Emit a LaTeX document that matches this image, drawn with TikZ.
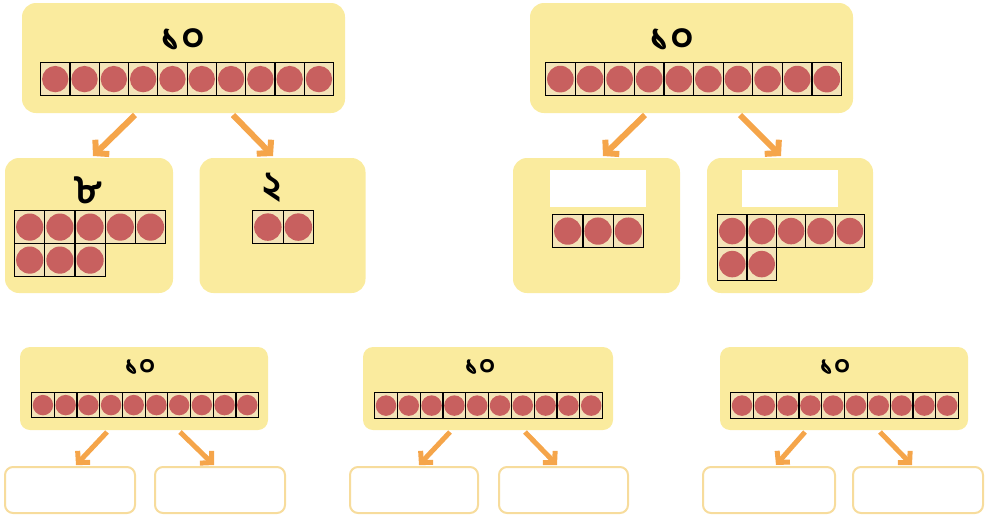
\documentclass[tikz,border=0pt]{standalone}
\usepackage{fontspec}
\newfontfamily\bnfont[Script=Bengali]{Hind Siliguri}
\usetikzlibrary{arrows.meta}
\definecolor{boxyellow}{HTML}{FAEB9E}
\definecolor{dotred}{HTML}{C8605F}
\definecolor{cellbg}{HTML}{F3E3B8}
\definecolor{arrorange}{HTML}{F5A54A}
\definecolor{emptyline}{HTML}{F7DC9C}
\tikzset{
  ybox/.style={fill=boxyellow, rounded corners=14pt, inner sep=0pt},
  cellbox/.style={draw=black, line width=1.2pt, fill=cellbg, inner sep=0pt, anchor=north west},
  emptybox/.style={draw=emptyline, line width=2pt, fill=white, rounded corners=8pt, inner sep=0pt},
  blankbox/.style={fill=white, inner sep=0pt},
  splitarrow/.style={draw=arrorange, line width=6pt, -{Straight Barb[length=9pt,width=20pt]}},
  smallarrow/.style={draw=arrorange, line width=5pt, -{Straight Barb[length=8pt,width=17pt]}},
  bignum/.style={font=\bnfont\bfseries\fontsize{40}{40}\selectfont, inner sep=0pt},
  smallnum/.style={font=\bnfont\bfseries\fontsize{28}{28}\selectfont, inner sep=0pt}
}
% #1 x0, #2 y0 (top-left), #3 count, #4 cell width, #5 cell height, #6 name
\newcommand\dotrow[6]{%
  \foreach \k in {1,...,#3}{%
    \node[cellbox, minimum width=#4pt, minimum height=#5pt] (#6-\k) at ({#1+(\k-1)*#4},#2) {};
    \fill[dotred] (#6-\k.center) circle[radius={0.45*#4}];
  }%
}
\begin{document}
\begin{tikzpicture}[x=1pt,y=-1pt]
\useasboundingbox (0,0) rectangle (986,517);
% ---------- top left ----------
\node[ybox, minimum width=323pt, minimum height=110pt] (A) at (183.5,58) {};
\node[bignum] (At) at (183,40) {১০};
\dotrow{40}{62}{10}{29.3}{33}{Ar}
\node[ybox, minimum width=168pt, minimum height=135pt] (A1) at (89,225.5) {};
\node[bignum] (A1t) at (88,190) {৮};
\dotrow{14}{210}{5}{30.2}{33}{A1r}
\dotrow{14}{243}{3}{30.2}{33}{A1s}
\node[ybox, minimum width=166pt, minimum height=135pt] (A2) at (282.5,225.5) {};
\node[bignum] (A2t) at (272,188) {২};
\dotrow{252}{210}{2}{30.5}{33}{A2r}
\coordinate (a1s) at (135,115); \coordinate (a1e) at (93,156);
\coordinate (a2s) at (233,115); \coordinate (a2e) at (273,156);
\draw[splitarrow] (a1s) -- (a1e);
\draw[splitarrow] (a2s) -- (a2e);
% ---------- top right ----------
\node[ybox, minimum width=323pt, minimum height=110pt] (B) at (691.5,58) {};
\node[bignum] (Bt) at (672,40) {১০};
\dotrow{545}{62}{10}{29.6}{33}{Br}
\node[ybox, minimum width=167pt, minimum height=135pt] (B1) at (596.5,225.5) {};
\node[blankbox, minimum width=96pt, minimum height=37pt] (B1b) at (598,188.5) {};
\dotrow{552}{214}{3}{30.3}{33}{B1r}
\node[ybox, minimum width=166pt, minimum height=135pt] (B2) at (790,225.5) {};
\node[blankbox, minimum width=96pt, minimum height=37pt] (B2b) at (790,188.5) {};
\dotrow{717}{214}{5}{29.4}{33}{B2r}
\dotrow{717}{247}{2}{29.4}{33}{B2s}
\coordinate (b1s) at (645,115); \coordinate (b1e) at (603,156);
\coordinate (b2s) at (740,115); \coordinate (b2e) at (781,156);
\draw[splitarrow] (b1s) -- (b1e);
\draw[splitarrow] (b2s) -- (b2e);
% ---------- bottom row ----------
\node[ybox, rounded corners=10pt, minimum width=248pt, minimum height=83pt] (C) at (144,388.5) {};
\node[smallnum] (Ct) at (140,367) {১০};
\dotrow{31}{392}{10}{22.7}{25}{Cr}
\node[emptybox, minimum width=130pt, minimum height=46pt] (C1) at (70,490) {};
\node[emptybox, minimum width=130pt, minimum height=46pt] (C2) at (220,490) {};
\coordinate (c1s) at (107,432); \coordinate (c1e) at (76,465);
\coordinate (c2s) at (180,432); \coordinate (c2e) at (214,465);
\draw[smallarrow] (c1s) -- (c1e);
\draw[smallarrow] (c2s) -- (c2e);

\node[ybox, rounded corners=10pt, minimum width=250pt, minimum height=83pt] (D) at (488,388.5) {};
\node[smallnum] (Dt) at (480,367) {১০};
\dotrow{374}{392}{10}{22.8}{26}{Dr}
\node[emptybox, minimum width=128pt, minimum height=46pt] (D1) at (414,490) {};
\node[emptybox, minimum width=129pt, minimum height=46pt] (D2) at (563.5,490) {};
\coordinate (d1s) at (450,432); \coordinate (d1e) at (419,465);
\coordinate (d2s) at (525,432); \coordinate (d2e) at (557,465);
\draw[smallarrow] (d1s) -- (d1e);
\draw[smallarrow] (d2s) -- (d2e);

\node[ybox, rounded corners=10pt, minimum width=248pt, minimum height=83pt] (E) at (844,388.5) {};
\node[smallnum] (Et) at (835,367) {১০};
\dotrow{730}{392}{10}{22.8}{26}{Er}
\node[emptybox, minimum width=132pt, minimum height=46pt] (E1) at (769,490) {};
\node[emptybox, minimum width=130pt, minimum height=46pt] (E2) at (918,490) {};
\coordinate (e1s) at (805,432); \coordinate (e1e) at (776,465);
\coordinate (e2s) at (880,432); \coordinate (e2e) at (912,465);
\draw[smallarrow] (e1s) -- (e1e);
\draw[smallarrow] (e2s) -- (e2e);
\end{tikzpicture}
\end{document}
